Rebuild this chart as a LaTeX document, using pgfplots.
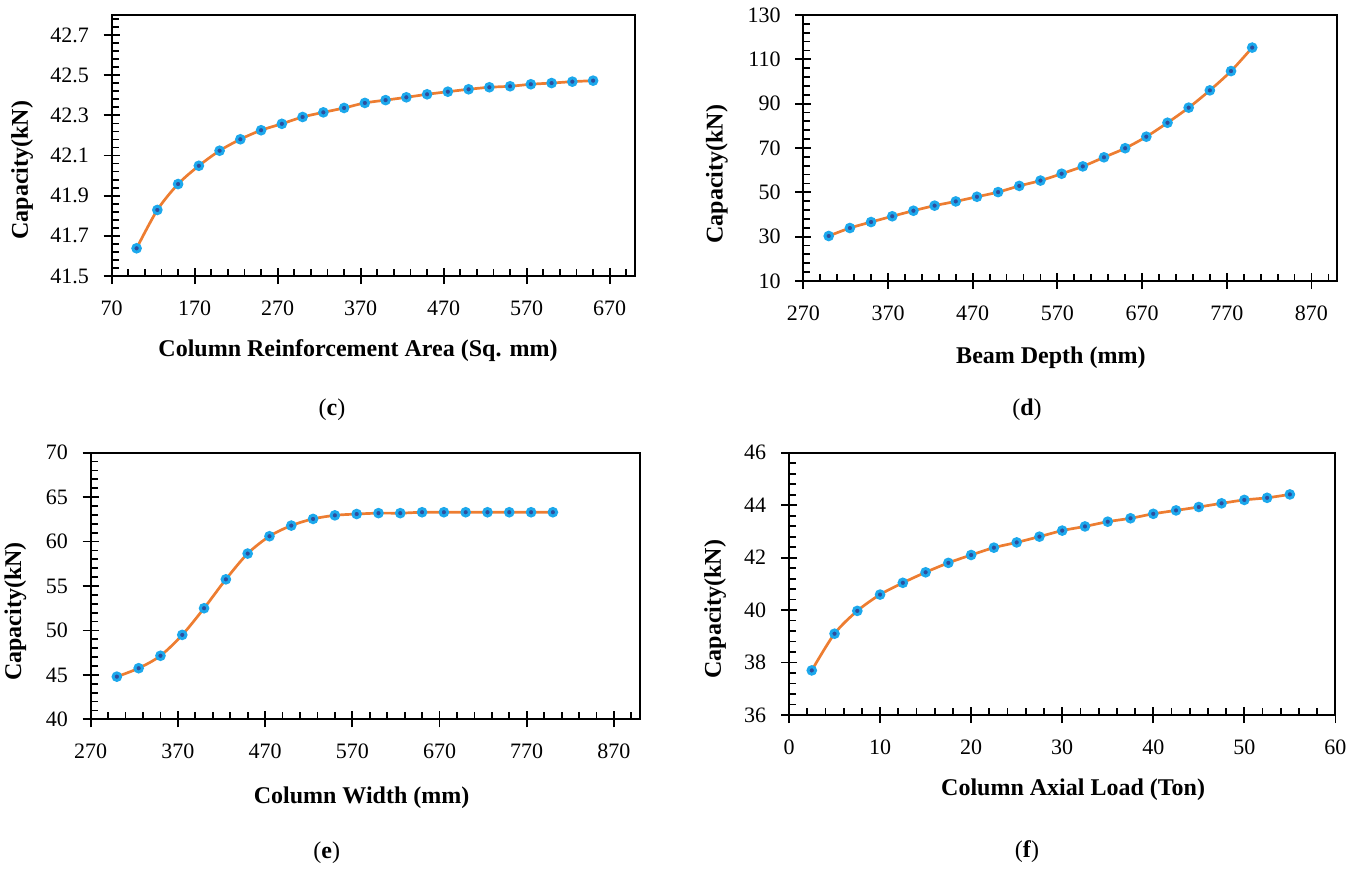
\documentclass[border=0pt]{standalone}
\usepackage{pgfplots}
\pgfplotsset{compat=1.18}
\usepackage{fontspec}
\setmainfont{Liberation Serif}
\definecolor{lineor}{HTML}{ED7D31}
\definecolor{mkring}{HTML}{1CA8EC}
\definecolor{mkfill}{HTML}{2D4E9E}

\pgfplotsset{
  panel/.style={
    scale only axis, anchor=south west,
    axis line style={line width=1pt},
    tick pos=left, tick align=inside,
    major tick length=4pt, minor tick length=3.5pt,
    every tick/.style={black, line width=0.9pt},
    tick label style={font=\fontsize{11}{13}\selectfont},
    /pgf/number format/assume math mode=true,
    xticklabel style={yshift=-8.8pt},
    yticklabel style={xshift=-7.85pt},
    label style={font=\bfseries\fontsize{12}{14}\selectfont},
    extra tick style={tick align=outside, major tick length=4pt},
    extra x tick labels={}, extra y tick labels={},
  },
  curve/.style={lineor, line width=1.35pt, smooth, mark=*, mark size=1.9pt,
    mark options={fill=mkfill, draw=mkring, line width=1.45pt, solid}},
}

\begin{document}
\begin{tikzpicture}
\useasboundingbox (0,0) rectangle (682.5pt,434.5pt);

% (c)
\begin{axis}[panel, at={(55.85pt,296.5pt)}, width=261.45pt, height=130.5pt,
  xmin=70, xmax=700, ymin=41.5, ymax=42.8,
  xtick={70,170,270,370,470,570,670},
  ytick={41.5,41.7,41.9,42.1,42.3,42.5,42.7},
  minor xtick={70,90,...,700}, minor ytick={41.5,41.54,...,42.81},
  extra x ticks={70,170,270,370,470,570,670},
  extra y ticks={41.5,41.7,41.9,42.1,42.3,42.5,42.7},
  yticklabel style={/pgf/number format/.cd, fixed, precision=1, fixed zerofill},
  xlabel={Column Reinforcement Area (Sq. mm)}, ylabel={Capacity(kN)},
  xlabel style={at={(axis description cs:0.471,-0.286)}, anchor=center},
  ylabel style={at={(axis description cs:-0.1715,0.406)}, anchor=center},
]
\addplot[curve] coordinates {
(100,41.638) (125,41.829) (150,41.958) (175,42.049) (200,42.124) (225,42.181)
(250,42.226) (275,42.258) (300,42.292) (325,42.315) (350,42.337) (375,42.362)
(400,42.376) (425,42.390) (450,42.405) (475,42.418) (500,42.430) (525,42.440)
(550,42.445) (575,42.455) (600,42.461) (625,42.468) (650,42.473)};
\end{axis}

% (d)
\begin{axis}[panel, at={(401.65pt,294pt)}, width=266.8pt, height=133pt,
  xmin=270, xmax=900, ymin=10, ymax=130,
  xtick={270,370,470,570,670,770,870},
  ytick={10,30,50,70,90,110,130},
  minor xtick={270,290,...,900}, minor ytick={10,14,...,130},
  extra x ticks={270,370,470,570,670,770,870},
  extra y ticks={10,30,50,70,90,110,130},
  xlabel={Beam Depth (mm)}, ylabel={Capacity(kN)},
  xlabel style={at={(axis description cs:0.464,-0.289)}, anchor=center},
  ylabel style={at={(axis description cs:-0.162,0.402)}, anchor=center},
]
\addplot[curve] coordinates {
(300,30.3) (325,33.9) (350,36.6) (375,39.2) (400,41.7) (425,44.0) (450,45.9)
(475,48.0) (500,50.1) (525,52.9) (550,55.3) (575,58.4) (600,61.7) (625,65.8)
(650,69.9) (675,75.1) (700,81.4) (725,88.2) (750,96.0) (775,104.7) (800,115.3)};
\end{axis}

% (e)
\begin{axis}[panel, at={(45.35pt,74.85pt)}, width=274.7pt, height=133.3pt,
  xmin=270, xmax=900, ymin=40, ymax=70,
  xtick={270,370,470,570,670,770,870},
  ytick={40,45,50,55,60,65,70},
  minor xtick={270,290,...,900}, minor ytick={40,41,...,70},
  extra x ticks={270,370,470,570,670,770,870},
  extra y ticks={40,45,50,55,60,65,70},
  xlabel={Column Width (mm)}, ylabel={Capacity(kN)},
  xlabel style={at={(axis description cs:0.493,-0.295)}, anchor=center},
  ylabel style={at={(axis description cs:-0.137,0.404)}, anchor=center},
]
\addplot[curve] coordinates {
(300,44.8) (325,45.75) (350,47.15) (375,49.5) (400,52.5) (425,55.75) (450,58.65)
(475,60.6) (500,61.8) (525,62.55) (550,62.95) (575,63.1) (600,63.2) (625,63.2)
(650,63.3) (675,63.3) (700,63.3) (725,63.3) (750,63.3) (775,63.3) (800,63.3)};
\end{axis}

% (f)
\begin{axis}[panel, at={(394.5pt,77pt)}, width=273.2pt, height=131.15pt,
  xmin=0, xmax=60, ymin=36, ymax=46,
  xtick={0,10,20,30,40,50,60},
  ytick={36,38,40,42,44,46},
  minor xtick={0,2,...,60}, minor ytick={36,36.4,...,46.01},
  extra x ticks={0,10,20,30,40,50,60},
  extra y ticks={36,38,40,42,44,46},
  xlabel={Column Axial Load (Ton)}, ylabel={Capacity(kN)},
  xlabel style={at={(axis description cs:0.52,-0.286)}, anchor=center},
  ylabel style={at={(axis description cs:-0.135,0.404)}, anchor=center},
]
\addplot[curve] coordinates {
(2.5,37.70) (5,39.10) (7.5,39.97) (10,40.59) (12.5,41.04) (15,41.44) (17.5,41.80)
(20,42.10) (22.5,42.38) (25,42.58) (27.5,42.80) (30,43.03) (32.5,43.19) (35,43.37)
(37.5,43.50) (40,43.67) (42.5,43.80) (45,43.93) (47.5,44.07) (50,44.20) (52.5,44.28)
(55,44.41)};
\end{axis}

\node[font=\fontsize{12}{14}\selectfont] at (166pt,229.5pt) {(\textbf{c})};
\node[font=\fontsize{12}{14}\selectfont] at (513.5pt,229.5pt) {(\textbf{d})};
\node[font=\fontsize{12}{14}\selectfont] at (163.35pt,8pt) {(\textbf{e})};
\node[font=\fontsize{12}{14}\selectfont] at (513.5pt,8.65pt) {(\textbf{f})};
\end{tikzpicture}
\end{document}
